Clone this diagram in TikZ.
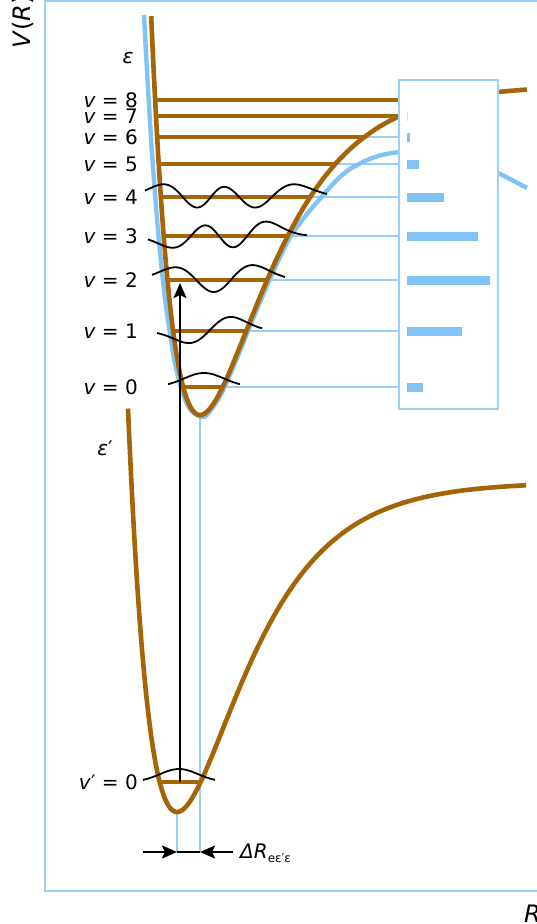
\documentclass[tikz,border=0pt]{standalone}
\usepackage{fontspec}
\setmainfont{DejaVu Sans}
\usetikzlibrary{arrows.meta}
\definecolor{brn}{RGB}{165,100,5}
\definecolor{lblue}{RGB}{128,196,246}
\definecolor{tblue}{RGB}{150,208,250}
\definecolor{fblue}{RGB}{155,208,246}
\begin{document}
\begin{tikzpicture}[x=1pt,y=-1pt,
  curve/.style={brn, line width=4.6pt},
  bluecurve/.style={lblue, line width=4.4pt},
  level/.style={brn, line width=4.2pt},
  guide/.style={tblue, line width=1.1pt},
  wave/.style={black, line width=1.8pt},
  lab/.style={font=\fontsize{20}{24}\selectfont, inner sep=0pt},
  arr/.style={black, line width=2.2pt, -{Stealth[length=15pt,width=13pt,inset=3pt]}},
  declare function={ml(\x)=1-exp(-0.0152*(\x-200)); mu(\x)=1-exp(-0.0152*(\x-177)); g(\t)=exp(-0.5*\t*\t);}
]
\clip (0,0) rectangle (537,924);
% frame
\draw[fblue, line width=1.3pt] (45,1) rectangle (600,891);
% guide lines
\draw[guide] (365,137) -- (399,137);
\draw[guide] (336,164) -- (399,164);
\draw[guide] (311,197) -- (399,197);
\draw[guide] (288,236) -- (399,236);
\draw[guide] (267,280) -- (399,280);
\draw[guide] (246,331) -- (399,331);
\draw[guide] (223,387) -- (399,387);
\draw[guide] (200,415) -- (200,852);
\draw[guide] (177,812) -- (177,852);
% blue potential
\draw[bluecurve] plot[smooth, tension=0.55] coordinates {(144,15) (146.4,60) (148.7,100) (151.8,150) (155.5,200) (159.8,250) (165.2,300) (172.5,350) (176.5,370) (181.7,390) (186.2,402) (190.6,410) (201,417) (208,413.6) (222,392.4) (240,351) (250,326) (270,279) (288,241) (303,219) (319,200) (334,183) (350,169) (375,157) (400,152) (430,151) (465,159) (498,173) (527,188)};
% brown potentials
\draw[curve] plot[domain=151.2:527, samples=600, smooth] (\x,{415-330*ml(\x)*ml(\x)});
\draw[curve] plot[domain=128:526, samples=500, smooth] (\x,{812-330*mu(\x)*mu(\x)});
% levels
\draw[level] (155,100) -- (399,100);
\draw[level] (156,116) -- (399,116);
\draw[level] (157,137) -- (365,137);
\draw[level] (159,164) -- (336,164);
\draw[level] (161,197) -- (311,197);
\draw[level] (164,236) -- (288,236);
\draw[level] (168,280) -- (267,280);
\draw[level] (173,331) -- (246,331);
\draw[level] (183,387) -- (223,387);
\draw[level] (160,782) -- (200,782);
% wavefunctions
\draw[wave] plot[domain=-1.8:1.8, samples=60, variable=\t, smooth] ({204+20*\t},{387-14*g(\t)});
\draw[wave] plot[domain=-2.48:2.52, samples=80, variable=\t, smooth] ({209+21*\t},{331-21.4*\t*g(\t)*exp(0.077*\t)});
\draw[wave] plot[domain=-2.52:2.93, samples=90, variable=\t, smooth] ({213.5+24.4*\t},{280-12*(2*\t*\t-1)*g(\t)*exp(0.05*\t)});
\draw[wave] plot[domain=-3.09:3.83, samples=110, variable=\t, smooth] ({219+23*\t},{236-9.6*(2*\t*\t*\t-3*\t)*g(\t)*exp(0.05*\t)});
\draw[wave] plot[domain=-3.16:3.55, samples=120, variable=\t, smooth] ({224+ifthenelse(\t<0,25,29)*\t},{197-3.4*(4*\t*\t*\t*\t-12*\t*\t+3)*g(\t)});
\draw[wave] plot[domain=-1.9:1.9, samples=60, variable=\t, smooth] ({179+19*\t},{782-13*g(\t)});
% transition arrow
\coordinate (lo) at (180,782);
\coordinate (hi) at (180,283);
\draw[arr] (lo) -- (hi);
% Delta R arrows
\coordinate (dl) at (143,852);
\coordinate (da) at (177,852);
\coordinate (db) at (200,852);
\coordinate (dr) at (233,852);
\draw[black, line width=2.2pt] (da) -- (db);
\draw[arr] (dl) -- (da);
\draw[arr] (dr) -- (db);
% Franck-Condon box
\draw[fblue, fill=white, line width=1.3pt] (399,80) rectangle (498,409);
\fill[lblue!45] (407,112) rectangle (408,121);
\fill[lblue] (407,132.5) rectangle (410,141.5);
\fill[lblue] (407,159.5) rectangle (419,168.5);
\fill[lblue] (407,192.5) rectangle (444,201.5);
\fill[lblue] (407,231.5) rectangle (478,240.5);
\fill[lblue] (407,276) rectangle (490,285);
\fill[lblue] (407,326.5) rectangle (462,335.5);
\fill[lblue] (407,382.5) rectangle (423,391.5);
% labels
\node[lab, anchor=east] (l8) at (138,100) {\textit{v} = 8};
\node[lab, anchor=east] (l7) at (138,116) {\textit{v} = 7};
\node[lab, anchor=east] (l6) at (138,137) {\textit{v} = 6};
\node[lab, anchor=east] (l5) at (138,164) {\textit{v} = 5};
\node[lab, anchor=east] (l4) at (138,197) {\textit{v} = 4};
\node[lab, anchor=east] (l3) at (138,236) {\textit{v} = 3};
\node[lab, anchor=east] (l2) at (138,280) {\textit{v} = 2};
\node[lab, anchor=east] (l1) at (138,331) {\textit{v} = 1};
\node[lab, anchor=east] (l0) at (138,387) {\textit{v} = 0};
\node[lab, anchor=east] (lp0) at (138,782) {\textit{v}′ = 0};
\node[lab] (eps) at (128,58) {\textit{ε}};
\node[lab] (epsp) at (105,448) {\textit{ε}′};
\node[lab, anchor=base west] (dR) at (240,858) {\textit{ΔR}\raisebox{-4pt}{\fontsize{12}{14}\selectfont eε′ε}};
\node[lab, font=\fontsize{24}{28}\selectfont, rotate=90] (vr) at (23,22) {\textit{V}(\textit{R})};
\node[lab, font=\fontsize{24}{28}\selectfont, anchor=base west] (rr) at (524,922) {\textit{R}};
\end{tikzpicture}
\end{document}
